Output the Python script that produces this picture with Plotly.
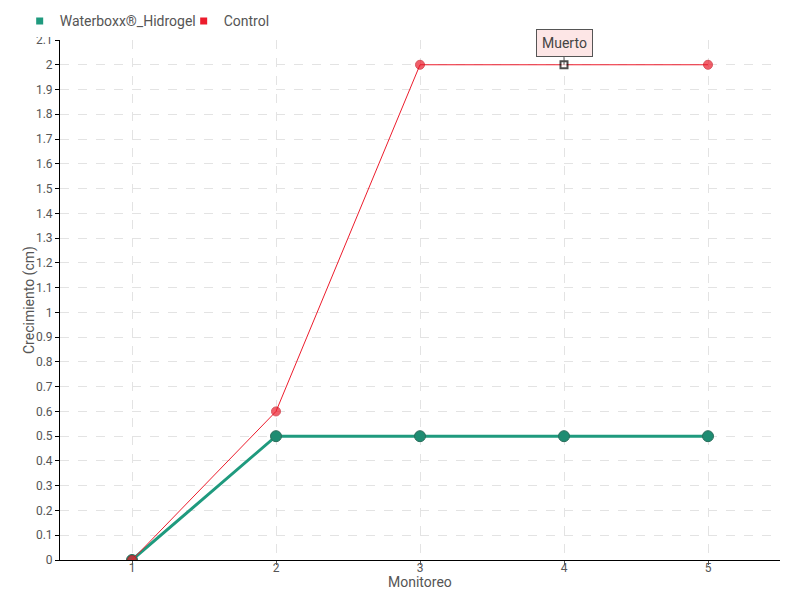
import plotly.graph_objects as go

monitoreo = [1, 2, 3, 4, 5]
waterboxx = [0, 0.5, 0.5, 0.5, 0.5]
control = [0, 0.6, 2, 2, 2]
y_ticks = [round(i * 0.1, 1) for i in range(22)]
y_labels = ["0" if v == 0 else ("%g" % v) for v in y_ticks]

GREEN = "#1f9a7e"
RED = "#ec1c2c"
FONT = "Roboto, sans-serif"

fig = go.Figure()

fig.add_trace(
    go.Scatter(
        x=monitoreo,
        y=waterboxx,
        mode="lines+markers",
        line=dict(color=GREEN, width=3),
        marker=dict(size=11, color="#1e8c72", line=dict(color="#2a6e5c", width=1)),
        showlegend=False,
    )
)
fig.add_trace(
    go.Scatter(
        x=monitoreo,
        y=control,
        mode="lines+markers",
        line=dict(color=RED, width=1),
        marker=dict(
            size=[9, 9, 9, 7, 9],
            symbol=["circle", "circle", "circle", "square", "circle"],
            color=[RED, RED, RED, "white", RED],
            line=dict(color=["#c8101c", "#c8101c", "#c8101c", "black", "#c8101c"], width=[1, 1, 1, 2, 1]),
        ),
        showlegend=False,
    )
)

# legend entries with square swatches
fig.add_trace(
    go.Scatter(
        x=[None], y=[None], mode="markers", name="Waterboxx®_Hidrogel",
        marker=dict(symbol="square", size=7, color=GREEN),
    )
)
fig.add_trace(
    go.Scatter(
        x=[None], y=[None], mode="markers", name="Control",
        marker=dict(symbol="square", size=7, color=RED),
    )
)

fig.add_annotation(
    x=monitoreo[3],
    y=control[3],
    text="Muerto",
    showarrow=True,
    arrowhead=0,
    arrowwidth=1,
    arrowcolor="#555",
    ax=0,
    ay=-22,
    bgcolor="#fde6e6",
    bordercolor="#555",
    borderwidth=1,
    borderpad=5,
    font=dict(family=FONT, size=14, color="#444"),
)

# axis titles sit close to the tick labels
fig.add_annotation(
    x=0.5, y=0, xref="paper", yref="paper",
    yanchor="middle", yshift=-22,
    showarrow=False, text="Monitoreo",
    font=dict(family=FONT, size=14, color="#555"),
)
fig.add_annotation(
    x=0, y=0.5, xref="paper", yref="paper",
    xanchor="center", xshift=-31, textangle=-90,
    showarrow=False, text="Crecimiento (cm)",
    font=dict(family=FONT, size=14, color="#555"),
)

fig.update_layout(
    width=800,
    height=600,
    margin=dict(l=52, r=28, t=32, b=48, autoexpand=False),
    plot_bgcolor="white",
    paper_bgcolor="white",
    font=dict(family=FONT, size=12, color="#555"),
    legend=dict(
        orientation="h",
        x=-0.056,
        xanchor="left",
        y=1.005,
        yanchor="bottom",
        font=dict(size=14, color="#555"),
        itemwidth=30,
        entrywidth=119,
        entrywidthmode="pixels",
        tracegroupgap=0,
    ),
)
fig.update_xaxes(
    range=[0.5, 5.5],
    tickvals=monitoreo,
    showline=True,
    linecolor="black",
    linewidth=1,
    ticks="outside",
    ticklen=4,
    tickcolor="#555",
    ticklabelstandoff=-7,
    showgrid=True,
    gridcolor="#e3e3e3",
    griddash="dash",
    zeroline=False,
    automargin=False,
)
fig.update_yaxes(
    range=[0, 2.1],
    tickvals=y_ticks,
    ticktext=y_labels,
    showline=True,
    linecolor="black",
    linewidth=1,
    ticks="outside",
    ticklen=4,
    tickcolor="black",
    showgrid=True,
    gridcolor="#e3e3e3",
    griddash="dash",
    zeroline=False,
    automargin=False,
)

fig.write_html("out.html")
